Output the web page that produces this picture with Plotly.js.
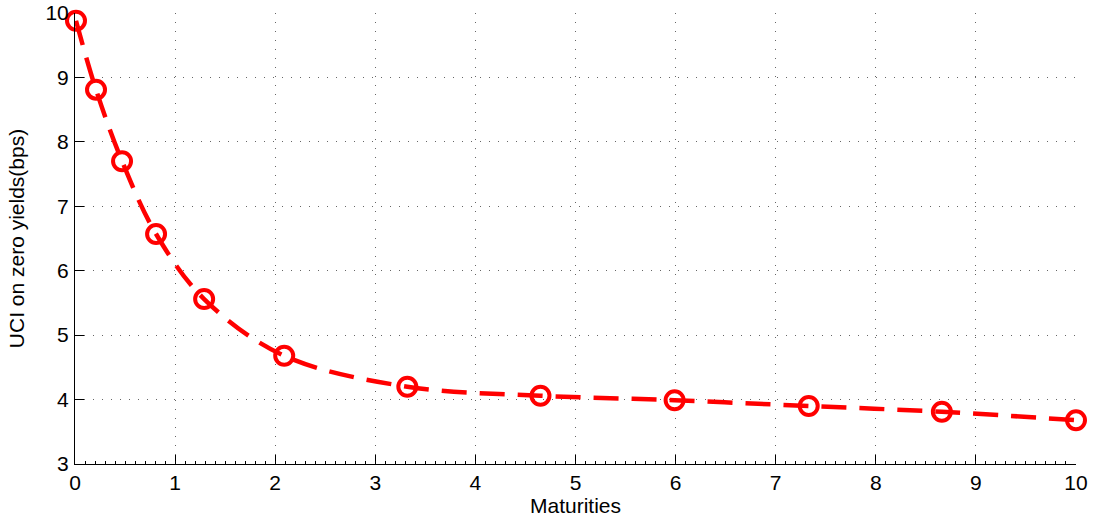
<!DOCTYPE html>
<html>
<head>
<meta charset="utf-8">
<script src="https://cdn.plot.ly/plotly-3.0.1.min.js"></script>
<style>html,body{margin:0;padding:0;background:#fff;}#chart{width:1094px;height:523px;}</style>
</head>
<body>
<div id="chart"></div>
<script>
const maturities = [0.01, 0.21, 0.47, 0.81, 1.29, 2.09, 3.32, 4.65, 5.99, 7.33, 8.66, 10.0];
const uciValues = [9.88, 8.81, 7.70, 6.57, 5.56, 4.68, 4.20, 4.06, 3.99, 3.90, 3.81, 3.68];
const xTicks = [0,1,2,3,4,5,6,7,8,9,10];
const yTicks = [3,4,5,6,7,8,9,10];

const trace = {
  x: maturities, y: uciValues, type: 'scatter', mode: 'lines+markers',
  line: {color: '#ff0000', width: 4.5, dash: '25px,13px', shape: 'spline', smoothing: 1},
  marker: {symbol: 'circle-open', size: 18, color: '#ff0000', line: {width: 4, color: '#ff0000'}},
  cliponaxis: false, hoverinfo: 'none'
};
const fontFam = '"Liberation Sans", Arial, Helvetica, sans-serif';
const layout = {
  width: 1094, height: 523,
  margin: {l: 75, r: 18, t: 13, b: 59},
  paper_bgcolor: '#fff', plot_bgcolor: '#fff',
  showlegend: false,
  font: {family: fontFam, size: 21, color: '#000'},
  xaxis: {
    range: [0, 10], tickvals: xTicks, ticktext: xTicks.map(String),
    ticks: 'inside', ticklen: 9, tickwidth: 1, tickcolor: '#000',
    showline: true, linecolor: '#000', linewidth: 1, mirror: false,
    showgrid: true, gridcolor: '#666', griddash: '1px,8px', gridwidth: 1,
    zeroline: false,
    minor: {dtick: 0.1, ticks: 'inside', ticklen: 3, tickcolor: '#000', showgrid: false},
    tickfont: {size: 21}, ticklabelstandoff: 0,
    title: {text: 'Maturities', font: {size: 21}, standoff: 4}
  },
  yaxis: {
    range: [3, 10], tickvals: yTicks, ticktext: yTicks.map(String),
    ticks: 'inside', ticklen: 9, tickwidth: 1, tickcolor: '#000',
    showline: true, linecolor: '#000', linewidth: 1, mirror: false,
    showgrid: true, gridcolor: '#666', griddash: '1px,8px', gridwidth: 1,
    zeroline: false,
    tickfont: {size: 21}, ticklabelstandoff: 1,
    title: {text: 'UCI on zero yields(bps)', font: {size: 21}, standoff: 15}
  }
};
Plotly.newPlot('chart', [trace], layout, {displayModeBar: false, staticPlot: true});
</script>
</body>
</html>
